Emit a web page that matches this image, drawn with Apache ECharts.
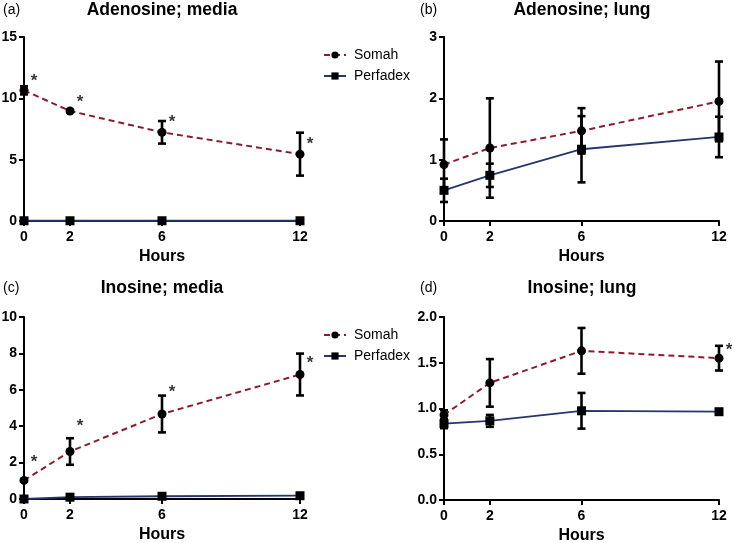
<!DOCTYPE html>
<html>
<head>
<meta charset="utf-8">
<script src="https://cdn.jsdelivr.net/npm/echarts@6/dist/echarts.min.js"></script>
<style>html,body{margin:0;padding:0;background:#fff}#c{width:735px;height:543px}</style>
</head>
<body>
<div id="c"></div>
<script>
// ---- data ----
const hours = [0, 2, 6, 12];
const xTicks = [0, 2, 6, 12];
const seriesNames = ['Somah', 'Perfadex'];
const panelTitles = ['Adenosine; media', 'Adenosine; lung', 'Inosine; media', 'Inosine; lung'];
const panelLetters = ['(a)', '(b)', '(c)', '(d)'];
const xAxisName = 'Hours';

// (a) Adenosine; media
const adoMediaSomah = [10.65, 8.97, 7.23, 5.45];
const adoMediaSomahErr = [0.33, 0.08, 0.92, 1.75];
const adoMediaPerf = [0.02, 0.02, 0.02, 0.02];
const adoMediaPerfErr = [0, 0, 0, 0];
const adoMediaStars = [[0, 11.7], [2, 10.0], [6, 8.4], [12, 6.6]];

// (b) Adenosine; lung
const adoLungSomah = [0.92, 1.19, 1.47, 1.95];
const adoLungSomahErr = [0.41, 0.81, 0.37, 0.65];
const adoLungPerf = [0.50, 0.745, 1.17, 1.37];
const adoLungPerfErr = [0.19, 0.19, 0.54, 0.33];
const adoLungStars = [];

// (c) Inosine; media
const inoMediaSomah = [1.02, 2.61, 4.67, 6.84];
const inoMediaSomahErr = [0.05, 0.73, 1.01, 1.15];
const inoMediaPerf = [0.0, 0.1, 0.15, 0.18];
const inoMediaPerfErr = [0, 0.03, 0.03, 0.03];
const inoMediaStars = [[0, 2.25], [2, 4.2], [6, 6.1], [12, 7.7]];

// (d) Inosine; lung
const inoLungSomah = [0.93, 1.28, 1.63, 1.55];
const inoLungSomahErr = [0.05, 0.26, 0.25, 0.135];
const inoLungPerf = [0.835, 0.865, 0.975, 0.965];
const inoLungPerfErr = [0.05, 0.065, 0.195, 0.01];
const inoLungStars = [[12, 1.68]];

// y axis ranges
const yMax = [15, 3, 10, 2];
const yInterval = [5, 1, 2, 0.5];
const yDecimals = [0, 0, 0, 1];

// ---- layout / style ----
const FONT = '"Liberation Sans", Arial, Helvetica, sans-serif';
const RED = '#8b1c2e';
const NAVY = '#26366a';
const grids = [
  {left: 24, right: 435, top: 37, bottom: 322, outerBoundsMode: 'none'},
  {left: 444, right: 16, top: 37, bottom: 322, outerBoundsMode: 'none'},
  {left: 24, right: 435, top: 317, bottom: 44, outerBoundsMode: 'none'},
  {left: 444, right: 16, top: 317, bottom: 43, outerBoundsMode: 'none'}
];
const titleX = [162, 582, 162, 582];
const letterX = [3, 420, 3, 420];
const titleY = [10, 10, 288, 288];
const panels = [
  {s: adoMediaSomah, se: adoMediaSomahErr, p: adoMediaPerf, pe: adoMediaPerfErr, stars: adoMediaStars},
  {s: adoLungSomah, se: adoLungSomahErr, p: adoLungPerf, pe: adoLungPerfErr, stars: adoLungStars},
  {s: inoMediaSomah, se: inoMediaSomahErr, p: inoMediaPerf, pe: inoMediaPerfErr, stars: inoMediaStars},
  {s: inoLungSomah, se: inoLungSomahErr, p: inoLungPerf, pe: inoLungPerfErr, stars: inoLungStars}
];

function renderErr(params, api) {
  const x = api.value(0);
  const lo = api.coord([x, api.value(1)]);
  const hi = api.coord([x, api.value(2)]);
  const w = 4;
  const st = {stroke: '#000', lineWidth: 2.6};
  return {type: 'group', children: [
    {type: 'line', shape: {x1: lo[0], y1: lo[1], x2: hi[0], y2: hi[1]}, style: st},
    {type: 'line', shape: {x1: lo[0] - w, y1: lo[1], x2: lo[0] + w, y2: lo[1]}, style: st},
    {type: 'line', shape: {x1: hi[0] - w, y1: hi[1], x2: hi[0] + w, y2: hi[1]}, style: st}
  ]};
}

const xAxes = [], yAxes = [], series = [], graphics = [];
panels.forEach((pn, i) => {
  xAxes.push({
    type: 'value', gridIndex: i, min: 0, max: 12,
    name: xAxisName, nameLocation: 'middle', nameGap: 28,
    nameTextStyle: {fontFamily: FONT, fontSize: 16, fontWeight: 'bold', color: '#000'},
    axisLine: {show: true, onZero: false, lineStyle: {color: '#000', width: 2}},
    axisTick: {show: true, length: 5, lineStyle: {color: '#000', width: 2}, customValues: xTicks},
    axisLabel: {fontFamily: FONT, fontSize: 14, fontWeight: 'bold', color: '#000', margin: 9, customValues: xTicks},
    splitLine: {show: false}
  });
  yAxes.push({
    type: 'value', gridIndex: i, min: 0, max: yMax[i], interval: yInterval[i],
    axisLine: {show: true, onZero: false, lineStyle: {color: '#000', width: 2}},
    axisTick: {show: true, length: 5, lineStyle: {color: '#000', width: 2}},
    axisLabel: {fontFamily: FONT, fontSize: 14, fontWeight: 'bold', color: '#000', margin: 7,
      formatter: v => v.toFixed(yDecimals[i])},
    splitLine: {show: false}
  });
  const errData = [];
  hours.forEach((h, k) => {
    errData.push([h, pn.s[k] - pn.se[k], pn.s[k] + pn.se[k]]);
    errData.push([h, pn.p[k] - pn.pe[k], pn.p[k] + pn.pe[k]]);
  });
  series.push({
    type: 'line', name: seriesNames[0], xAxisIndex: i, yAxisIndex: i,
    data: hours.map((h, k) => [h, pn.s[k]]),
    symbol: 'circle', symbolSize: 9, showAllSymbol: true, clip: false, z: 4,
    itemStyle: {color: '#000'},
    lineStyle: {color: RED, width: 2, type: [6, 4]}
  });
  series.push({
    type: 'line', name: seriesNames[1], xAxisIndex: i, yAxisIndex: i,
    data: hours.map((h, k) => [h, pn.p[k]]),
    symbol: 'rect', symbolSize: 9, showAllSymbol: true, clip: false, z: 4,
    itemStyle: {color: '#000'},
    lineStyle: {color: NAVY, width: 1.8}
  });
  series.push({
    type: 'custom', name: 'err' + i, xAxisIndex: i, yAxisIndex: i,
    data: errData, renderItem: renderErr, encode: {x: 0, y: [1, 2]}, z: 3, silent: true
  });
  if (pn.stars.length) {
    series.push({
      type: 'scatter', name: 'star' + i, xAxisIndex: i, yAxisIndex: i,
      data: pn.stars, symbolSize: 0.1, clip: false, z: 5, silent: true,
      itemStyle: {color: 'rgba(0,0,0,0)'},
      label: {show: true, position: 'inside', formatter: '*', offset: [10, 4],
        fontFamily: FONT, fontSize: 17, fontWeight: 'bold', color: '#000'}
    });
  }
  graphics.push({type: 'text', x: titleX[i], y: titleY[i],
    style: {text: panelTitles[i], font: 'bold 17.5px ' + FONT, fill: '#000', textAlign: 'center', textVerticalAlign: 'middle'}});
  graphics.push({type: 'text', x: letterX[i], y: titleY[i],
    style: {text: panelLetters[i], font: '14px ' + FONT, fill: '#000', textAlign: 'left', textVerticalAlign: 'middle'}});
});

const legendBase = {
  data: seriesNames, orient: 'vertical', left: 318, itemWidth: 22, itemHeight: 9, itemGap: 7,
  selectedMode: false,
  textStyle: {fontFamily: FONT, fontSize: 14, color: '#000', lineHeight: 14, padding: [0, 0, 0, 3]}
};

const chart = echarts.init(document.getElementById('c'), null, {renderer: 'canvas'});
chart.setOption({
  animation: false,
  backgroundColor: '#fff',
  grid: grids,
  xAxis: xAxes,
  yAxis: yAxes,
  legend: [Object.assign({top: 43}, legendBase), Object.assign({top: 323}, legendBase)],
  series: series,
  graphic: graphics
});
</script>
</body>
</html>
